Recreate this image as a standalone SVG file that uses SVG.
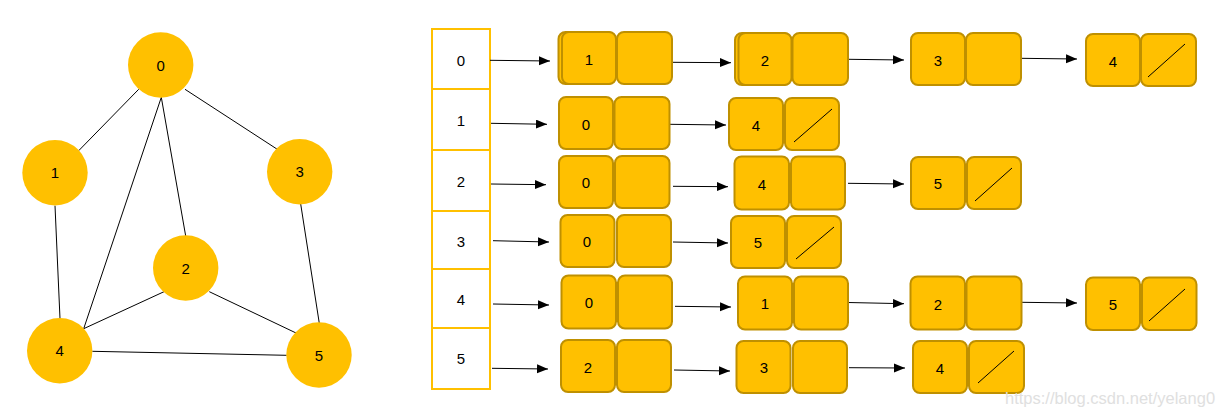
<svg xmlns="http://www.w3.org/2000/svg" width="1216" height="414" viewBox="0 0 1216 414">
<style>
.v{fill:#FFC000;stroke:none}
.e{stroke:#000;stroke-width:1;fill:none}
.t{font-family:"Liberation Sans",Arial,sans-serif;font-size:15px;fill:#000;text-anchor:middle}
.cell{fill:#fff;stroke:#FFC000;stroke-width:2}
.b{fill:#FFC000;stroke:#BF9000;stroke-width:2}
.s{stroke:#000;stroke-width:1}
.a{stroke:#000;stroke-width:1;fill:none;marker-end:url(#ah)}
.wm{font-family:"Liberation Sans",Arial,sans-serif;font-size:16.5px;fill:#e0e0e0}
</style>
<defs>
<marker id="ah" markerUnits="userSpaceOnUse" markerWidth="12" markerHeight="10" refX="11" refY="4.5" orient="auto">
<path d="M0,0 L11,4.5 L0,9 z" fill="#000"/>
</marker>
</defs>
<rect width="1216" height="414" fill="#fff"/>
<g id="graph-edges">
<line class="e" x1="138.7" y1="89.3" x2="78.7" y2="150.7"/>
<line class="e" x1="185" y1="89.3" x2="277.3" y2="149.3"/>
<line class="e" x1="161.3" y1="97.3" x2="185.7" y2="236"/>
<line class="e" x1="161.3" y1="97.3" x2="83.7" y2="328.7"/>
<line class="e" x1="55" y1="205.7" x2="60" y2="318.7"/>
<line class="e" x1="300.7" y1="204" x2="319.3" y2="323.3"/>
<line class="e" x1="164" y1="291.7" x2="83.7" y2="328.7"/>
<line class="e" x1="209.3" y1="291.7" x2="296.7" y2="333.3"/>
<line class="e" x1="92.3" y1="351.3" x2="286.7" y2="355.3"/>
</g>
<g id="v0"><circle class="v" cx="160.7" cy="65" r="32.7"/><text class="t" x="160.7" y="70.5">0</text></g>
<g id="v1"><circle class="v" cx="55" cy="172.7" r="32.7"/><text class="t" x="55" y="178.2">1</text></g>
<g id="v3"><circle class="v" cx="299.7" cy="171.7" r="32.7"/><text class="t" x="299.7" y="177.2">3</text></g>
<g id="v2"><circle class="v" cx="185.7" cy="268" r="32.7"/><text class="t" x="185.7" y="273.5">2</text></g>
<g id="v4"><circle class="v" cx="59.7" cy="350.7" r="32.7"/><text class="t" x="59.7" y="356.2">4</text></g>
<g id="v5"><circle class="v" cx="319" cy="355" r="32.7"/><text class="t" x="319" y="360.5">5</text></g>

<g id="array">
<rect class="cell" x="432" y="29" width="58" height="60"/>
<rect class="cell" x="432" y="89" width="58" height="61"/>
<rect class="cell" x="432" y="150" width="58" height="61"/>
<rect class="cell" x="432" y="211" width="58" height="58"/>
<rect class="cell" x="432" y="269" width="58" height="59"/>
<rect class="cell" x="432" y="328" width="58" height="61"/>
<text class="t" x="461" y="65.5">0</text>
<text class="t" x="461" y="125.5">1</text>
<text class="t" x="461" y="186.5">2</text>
<text class="t" x="461" y="246.5">3</text>
<text class="t" x="461" y="304.5">4</text>
<text class="t" x="461" y="363.5">5</text>
</g>

<g id="connectors">
<line class="a" x1="490" y1="60.3" x2="550" y2="61"/>
<line class="a" x1="673" y1="62.3" x2="731" y2="62.7"/>
<line class="a" x1="849" y1="59.3" x2="904" y2="60"/>
<line class="a" x1="1021" y1="58.3" x2="1077" y2="59"/>
<line class="a" x1="491" y1="123.3" x2="547" y2="124.3"/>
<line class="a" x1="670" y1="124.3" x2="726" y2="125"/>
<line class="a" x1="491" y1="184" x2="546" y2="184.7"/>
<line class="a" x1="673" y1="186.3" x2="728" y2="186.7"/>
<line class="a" x1="848" y1="183.3" x2="904" y2="184"/>
<line class="a" x1="493" y1="240.7" x2="549" y2="242"/>
<line class="a" x1="673" y1="242" x2="728" y2="243"/>
<line class="a" x1="493" y1="304" x2="549" y2="305"/>
<line class="a" x1="675" y1="306.3" x2="731" y2="307"/>
<line class="a" x1="848" y1="302.5" x2="904" y2="303.7"/>
<line class="a" x1="1022" y1="302.3" x2="1077" y2="303"/>
<line class="a" x1="492" y1="368.3" x2="548" y2="369"/>
<line class="a" x1="674" y1="370" x2="730" y2="371"/>
<line class="a" x1="849" y1="367.7" x2="905" y2="368"/>
</g>

<g id="r0n1">
<rect class="b" x="558.5" y="32" width="56" height="52" rx="7"/>
<rect class="b" x="562" y="32" width="54" height="52" rx="7"/>
<rect class="b" x="617" y="32" width="55" height="52" rx="7"/>
<text class="t" x="589" y="64.5">1</text>
</g>
<g id="r0n2">
<rect class="b" x="735" y="33" width="55" height="52" rx="7"/>
<rect class="b" x="738.5" y="33" width="53" height="52" rx="7"/>
<rect class="b" x="792.5" y="33" width="55.5" height="52" rx="7"/>
<text class="t" x="765" y="65.5">2</text>
</g>
<g id="r0n3">
<rect class="b" x="911" y="33" width="54" height="52" rx="7"/>
<rect class="b" x="966" y="33" width="55" height="52" rx="7"/>
<text class="t" x="938" y="65.5">3</text>
</g>
<g id="r0n4">
<rect class="b" x="1086" y="34" width="54" height="52" rx="7"/>
<rect class="b" x="1141" y="34" width="55" height="52" rx="7"/>
<line class="s" x1="1148" y1="77" x2="1185" y2="44"/>
<text class="t" x="1113" y="66.5">4</text>
</g>

<g id="r1n0">
<rect class="b" x="559" y="97" width="54" height="52" rx="7"/>
<rect class="b" x="614.5" y="97" width="55" height="52" rx="7"/>
<text class="t" x="586" y="129.5">0</text>
</g>
<g id="r1n4">
<rect class="b" x="729" y="98" width="54" height="52" rx="7"/>
<rect class="b" x="785" y="98" width="54" height="52" rx="7"/>
<line class="s" x1="794" y1="142" x2="832" y2="109"/>
<text class="t" x="756" y="130.5">4</text>
</g>

<g id="r2n0">
<rect class="b" x="559" y="156" width="54" height="52" rx="7"/>
<rect class="b" x="615" y="156" width="54.5" height="52" rx="7"/>
<text class="t" x="586" y="187.5">0</text>
</g>
<g id="r2n4">
<rect class="b" x="734.5" y="156.5" width="54.5" height="53" rx="7"/>
<rect class="b" x="791" y="156.5" width="54" height="53" rx="7"/>
<text class="t" x="762" y="189.5">4</text>
</g>
<g id="r2n5">
<rect class="b" x="911" y="157" width="54" height="52" rx="7"/>
<rect class="b" x="967" y="157" width="54" height="52" rx="7"/>
<line class="s" x1="975" y1="201" x2="1012" y2="168"/>
<text class="t" x="938" y="188.5">5</text>
</g>

<g id="r3n0">
<rect class="b" x="560.5" y="215" width="54" height="52" rx="7"/>
<rect class="b" x="617" y="215" width="54" height="52" rx="7"/>
<text class="t" x="587" y="246.5">0</text>
</g>
<g id="r3n5">
<rect class="b" x="731" y="216" width="54" height="52" rx="7"/>
<rect class="b" x="787" y="216" width="54" height="52" rx="7"/>
<line class="s" x1="796" y1="259" x2="834" y2="227"/>
<text class="t" x="758" y="247.5">5</text>
</g>

<g id="r4n0">
<rect class="b" x="561.5" y="275.5" width="54.5" height="53" rx="7"/>
<rect class="b" x="618" y="275.5" width="54" height="53" rx="7"/>
<text class="t" x="589" y="307.5">0</text>
</g>
<g id="r4n1">
<rect class="b" x="738" y="276.5" width="54" height="53" rx="7"/>
<rect class="b" x="794" y="276.5" width="54" height="53" rx="7"/>
<text class="t" x="765" y="308.5">1</text>
</g>
<g id="r4n2">
<rect class="b" x="910.5" y="276.5" width="54.5" height="53" rx="7"/>
<rect class="b" x="966.5" y="276.5" width="55" height="53" rx="7"/>
<text class="t" x="938" y="309.5">2</text>
</g>
<g id="r4n5">
<rect class="b" x="1086" y="277.5" width="54" height="52.5" rx="7"/>
<rect class="b" x="1142" y="277.5" width="54.5" height="52.5" rx="7"/>
<line class="s" x1="1149" y1="321" x2="1185" y2="289"/>
<text class="t" x="1113" y="309.5">5</text>
</g>

<g id="r5n2">
<rect class="b" x="561" y="340" width="54" height="52" rx="7"/>
<rect class="b" x="617" y="340" width="54" height="52" rx="7"/>
<text class="t" x="588" y="372.5">2</text>
</g>
<g id="r5n3">
<rect class="b" x="736.5" y="341" width="54" height="52" rx="7"/>
<rect class="b" x="793" y="341" width="54" height="52" rx="7"/>
<text class="t" x="764" y="372.5">3</text>
</g>
<g id="r5n4">
<rect class="b" x="913" y="341" width="54" height="52" rx="7"/>
<rect class="b" x="969" y="341" width="55" height="52" rx="7"/>
<line class="s" x1="978" y1="383" x2="1014" y2="351"/>
<text class="t" x="940" y="373.5">4</text>
</g>

<text class="wm" x="1005" y="404">https://blog.csdn.net/yelang0</text>
</svg>
